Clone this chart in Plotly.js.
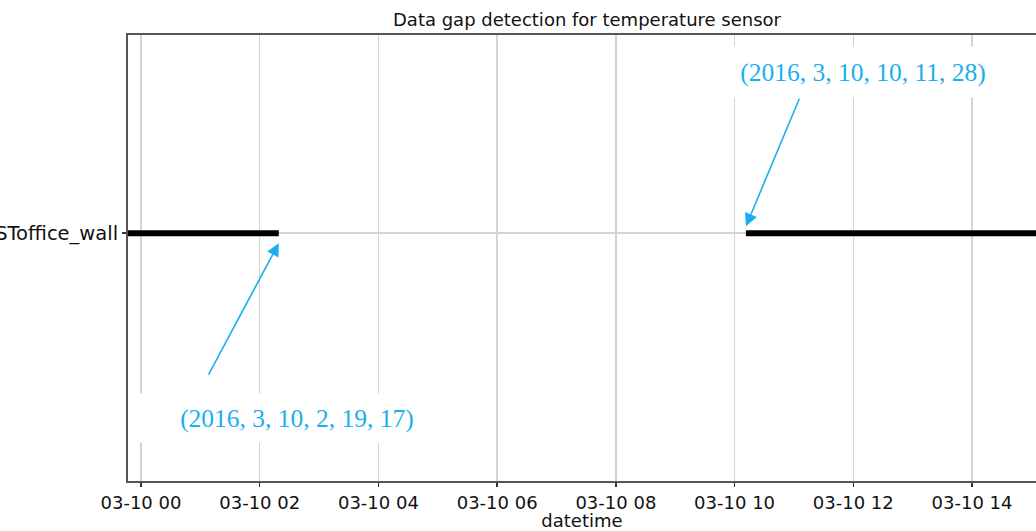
<!DOCTYPE html>
<html>
<head>
<meta charset="utf-8">
<script src="https://cdn.plot.ly/plotly-3.0.1.min.js"></script>
<style>html,body{margin:0;padding:0;background:#fff;}#chart{width:1036px;height:531px;}</style>
</head>
<body>
<div id="chart"></div>
<script>
// ---- data ----
const sensorNames = ['SToffice_wall'];
const segmentStarts = ['2016-03-09 23:30:00', '2016-03-10 10:11:28'];
const segmentEnds   = ['2016-03-10 02:19:17', '2016-03-10 15:30:00'];
const gapEdgeTimes  = ['2016-03-10 02:19:17', '2016-03-10 10:11:28'];
const gapEdgeLabels = ['(2016, 3, 10, 2, 19, 17)', '(2016, 3, 10, 10, 11, 28)'];
const xRange = ['2016-03-09 23:46:52', '2016-03-10 15:04:40'];

// build line trace (one row, gap in between)
const xs = [], ys = [];
segmentStarts.forEach((s, i) => {
  if (i > 0) { xs.push(null); ys.push(null); }
  xs.push(s, segmentEnds[i]);
  ys.push(0, 0);
});

const blue = '#1aaff0';
const trace = {
  x: xs, y: ys, type: 'scatter', mode: 'lines',
  line: {color: '#000000', width: 6},
  hoverinfo: 'skip', showlegend: false, connectgaps: false
};

const serif = 'Liberation Serif, Times New Roman, serif';
const annotations = [
  // text boxes
  {xref: 'paper', yref: 'paper', x: (297 - 128) / 908, y: (481 - 418) / 446,
   xanchor: 'center', yanchor: 'middle',
   text: gapEdgeLabels[0], showarrow: false, bgcolor: '#ffffff', width: 330, height: 48, borderpad: 0,
   font: {family: serif, size: 25.5, color: blue}},
  {xref: 'paper', yref: 'paper', x: (863 - 128) / 908, y: (481 - 72) / 446,
   xanchor: 'center', yanchor: 'middle',
   text: gapEdgeLabels[1], showarrow: false, bgcolor: '#ffffff', width: 300, height: 50, borderpad: 0,
   font: {family: serif, size: 25.5, color: blue}},
  // arrows
  {x: gapEdgeTimes[0], y: -0.04, xref: 'x', yref: 'y', text: '', showarrow: true,
   ax: -71, ay: 133, arrowcolor: blue, arrowwidth: 1.6, arrowhead: 2, arrowsize: 1.6, standoff: 0},
  {x: gapEdgeTimes[1], y: 0.028, xref: 'x', yref: 'y', text: '', showarrow: true,
   ax: 54, ay: -129, arrowcolor: blue, arrowwidth: 1.6, arrowhead: 2, arrowsize: 1.6, standoff: 0}
];

const layout = {
  width: 1036, height: 531,
  margin: {l: 128, r: 0, t: 35, b: 50},
  paper_bgcolor: '#ffffff', plot_bgcolor: '#ffffff',
  font: {family: 'DejaVu Sans, sans-serif', size: 18, color: '#000000'},
  title: {text: 'Data gap detection for temperature sensor', x: 587 / 1036, xanchor: 'center',
          xref: 'container', y: 1 - 20 / 531, yref: 'container', yanchor: 'middle',
          font: {family: 'DejaVu Sans, sans-serif', size: 18, color: '#111111'}},
  xaxis: {
    type: 'date', range: xRange,
    tick0: '2016-03-10 00:00:00', dtick: 7200000, tickformat: '%m-%d %H',
    showgrid: true, gridcolor: '#d4d4d4', gridwidth: 1.5,
    showline: true, linecolor: '#555555', linewidth: 2, mirror: true,
    ticks: 'outside', ticklen: 4, tickwidth: 1.5, tickcolor: '#333333',
    tickfont: {size: 18, color: '#111111'},
    title: {text: 'datetime', standoff: 2, font: {size: 18, color: '#111111'}},
    zeroline: false
  },
  yaxis: {
    range: [-1, 0.8], tickvals: [0], ticktext: sensorNames,
    showgrid: true, gridcolor: '#d4d4d4', gridwidth: 1.5,
    showline: true, linecolor: '#555555', linewidth: 2, mirror: false,
    ticks: 'outside', ticklen: 4, tickwidth: 1.5, tickcolor: '#333333',
    tickfont: {size: 19.5, color: '#111111'},
    zeroline: false, fixedrange: true
  },
  annotations: annotations,
  showlegend: false
};

Plotly.newPlot('chart', [trace], layout, {displayModeBar: false, staticPlot: true});
</script>
</body>
</html>
